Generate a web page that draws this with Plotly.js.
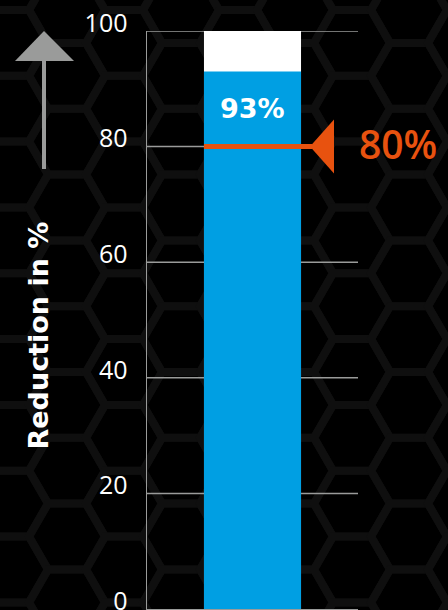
<!DOCTYPE html>
<html>
<head>
<meta charset="utf-8">
<script src="https://cdn.plot.ly/plotly-3.0.1.min.js"></script>
<style>
  html, body { margin: 0; padding: 0; background: #000; }
  #chart { width: 448px; height: 610px; background-repeat: no-repeat; }
</style>
</head>
<body>
<div id="chart"></div>
<script>
// --- data ---
const categories = ['Reduction'];
const achieved = [93];      // measured reduction, %
const scaleMax = [100];     // full scale of the gauge bar
const target = 80;          // required reduction, %
const yTicks = [0, 20, 40, 60, 80, 100];
const axisTitle = 'Reduction in %';

// --- colours ---
const BLUE = '#009fe3';
const ORANGE = '#e8520f';
const GREY = '#9a9b9a';
const HEX = '#0f0f0f';

// --- honeycomb backdrop ---
(function drawHoneycomb() {
  const R = 38, h = R * Math.sqrt(3) / 2, dx = 57, x0 = 10, y0 = 42.9;
  let paths = '';
  for (let i = -1; i <= 9; i++) {
    const cx = x0 + dx * i;
    for (let j = -1; j <= 10; j++) {
      const cy = y0 + 2 * h * j + (Math.abs(i) % 2 === 1 ? h : 0);
      const pts = [
        [cx + R, cy], [cx + R / 2, cy + h], [cx - R / 2, cy + h],
        [cx - R, cy], [cx - R / 2, cy - h], [cx + R / 2, cy - h]
      ].map(p => p[0].toFixed(1) + ',' + p[1].toFixed(1)).join(' ');
      paths += '<polygon points="' + pts + '"/>';
    }
  }
  const svg = '<svg xmlns="http://www.w3.org/2000/svg" width="448" height="610">' +
    '<rect width="448" height="610" fill="#000"/>' +
    '<g fill="none" stroke="' + HEX + '" stroke-width="8" stroke-linejoin="miter">' + paths + '</g></svg>';
  document.getElementById('chart').style.backgroundImage =
    'url("data:image/svg+xml;charset=utf-8,' + encodeURIComponent(svg) + '")';
})();

// --- geometry helpers (figure pixels -> paper / data units) ---
const M = { l: 147, r: 90, t: 31, b: 1 };
const W = 448, H = 610;
const PW = W - M.l - M.r, PH = H - M.t - M.b;
const px = x => (x - M.l) / PW;           // paper x
const py = y => (H - M.b - y) / PH;       // paper y
const dataX = x => -0.5 + px(x);          // x in category units (range -0.5..0.5)
const pxPerUnit = PH / scaleMax[0];

// target marker: line from bar edge to a left-pointing triangle
const barWidth = 0.46;
const tipX = dataX(310), baseX = dataX(334), half = 27 / pxPerUnit;

const traces = [
  { type: 'bar', x: categories, y: scaleMax, width: barWidth,
    marker: { color: '#ffffff' }, hoverinfo: 'skip', showlegend: false },
  { type: 'bar', x: categories, y: achieved, width: barWidth,
    marker: { color: BLUE }, hoverinfo: 'skip', showlegend: false }
];

// horizontal guide lines at each tick; the target row stops at the bar,
// leaving the space beside the marker clear
const gridShapes = yTicks.filter(v => v > 0).map(v => ({
  type: 'line', layer: 'below', xref: 'x', yref: 'y',
  x0: -0.5, x1: v === target ? 0 : 0.5, y0: v, y1: v,
  line: { color: GREY, width: 1.5 }
}));

const shapes = gridShapes.concat([
  { type: 'line', xref: 'x', yref: 'y', x0: -barWidth / 2, x1: tipX + 0.01, y0: target, y1: target,
    line: { color: ORANGE, width: 5 } },
  { type: 'path', xref: 'x', yref: 'y',
    path: 'M ' + tipX + ',' + target + ' L ' + baseX + ',' + (target + half) +
          ' L ' + baseX + ',' + (target - half) + ' Z',
    fillcolor: ORANGE, line: { width: 0 } },
  // upward arrow beside the axis title
  { type: 'rect', xref: 'paper', yref: 'paper',
    x0: px(42), x1: px(46), y0: py(169), y1: py(60),
    fillcolor: GREY, line: { width: 0 } },
  { type: 'path', xref: 'paper', yref: 'paper',
    path: 'M ' + px(44) + ',' + py(31) + ' L ' + px(74) + ',' + py(61) +
          ' L ' + px(15) + ',' + py(61) + ' Z',
    fillcolor: GREY, line: { width: 0 } }
]);

const annotations = [
  { xref: 'x', yref: 'y', x: categories[0], y: achieved[0], yshift: -37,
    text: achieved[0] + '%', showarrow: false, xanchor: 'center', yanchor: 'middle',
    font: { family: 'DejaVu Sans', size: 27, color: '#ffffff', weight: 700 } },
  { xref: 'paper', yref: 'y', x: px(357), y: target, yshift: 3,
    text: target + '%', showarrow: false, xanchor: 'left', yanchor: 'middle',
    font: { family: 'Open Sans', size: 39, color: ORANGE, weight: 600 } },
  { xref: 'paper', yref: 'paper', x: px(38), y: py(335.5),
    text: axisTitle, textangle: -90, showarrow: false, xanchor: 'center', yanchor: 'middle',
    font: { family: 'DejaVu Sans', size: 27, color: '#ffffff', weight: 700 } }
];

const layout = {
  width: W, height: H,
  margin: M,
  paper_bgcolor: 'rgba(0,0,0,0)',
  plot_bgcolor: 'rgba(0,0,0,0)',
  barmode: 'overlay',
  showlegend: false,
  xaxis: {
    type: 'category', range: [-0.5, 0.5], fixedrange: true,
    showline: true, linecolor: GREY, linewidth: 1.5,
    showgrid: false, zeroline: false,
    tickson: 'boundaries', ticks: 'inside', ticklen: 13, tickcolor: GREY, tickwidth: 1.5,
    showticklabels: false
  },
  yaxis: {
    range: [0, scaleMax[0]], fixedrange: true,
    tickvals: yTicks, ticktext: yTicks.map(String),
    showline: true, linecolor: GREY, linewidth: 1.5,
    showgrid: false, zeroline: false, ticks: '',
    ticklabelstandoff: 13, ticklabelshift: -8, ticklabeloverflow: 'allow',
    tickfont: { family: 'Open Sans', size: 25, color: '#ffffff' }
  },
  shapes: shapes,
  annotations: annotations
};

Plotly.newPlot('chart', traces, layout, { displayModeBar: false, staticPlot: true });
</script>
</body>
</html>
